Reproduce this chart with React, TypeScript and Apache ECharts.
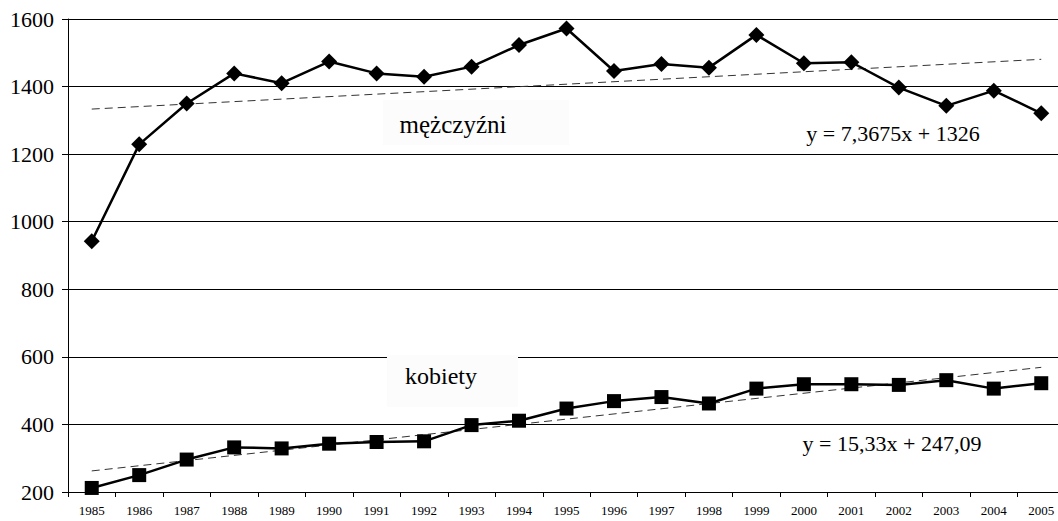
import React, { useEffect, useRef } from "react";
import * as echarts from "echarts";

const years = ["1985","1986","1987","1988","1989","1990","1991","1992","1993","1994","1995","1996","1997","1998","1999","2000","2001","2002","2003","2004","2005"];
const men = [942, 1229, 1350, 1439, 1410, 1474, 1439, 1429, 1459, 1523, 1572, 1446, 1467, 1456, 1553, 1469, 1472, 1397, 1343, 1388, 1321];
const women = [212, 250, 296, 332, 329, 343, 348, 350, 398, 411, 447, 469, 481, 462, 506, 519, 519, 517, 531, 506, 522];
const menTrendEnds = [1333.4, 1480.7];
const womenTrendEnds = [262.4, 569.0];
const yTicks = { min: 200, max: 1600, step: 200 };
const menLabel = "mężczyźni";
const womenLabel = "kobiety";
const menEq = "y = 7,3675x + 1326";
const womenEq = "y = 15,33x + 247,09";

const FONT = "Liberation Serif";

function trendData(ends: number[]) {
  return years.map((_, i) => (i === 0 ? ends[0] : i === years.length - 1 ? ends[1] : null));
}

export default function App() {
  const ref = useRef<HTMLDivElement>(null);
  useEffect(() => {
    if (!ref.current) return;
    const chart = echarts.init(ref.current, undefined, { renderer: "svg" });
    chart.setOption({
      animation: false,
      backgroundColor: "#fff",
      textStyle: { fontFamily: FONT },
      grid: { left: 68, top: 19, bottom: 29, right: -7, containLabel: false, outerBoundsMode: "none" },
      xAxis: {
        type: "category",
        data: years,
        boundaryGap: true,
        axisLine: { lineStyle: { color: "#000", width: 1 } },
        axisTick: { show: true, length: 5, lineStyle: { color: "#000" } },
        axisLabel: { color: "#000", fontSize: 13, fontFamily: FONT, margin: 12, interval: 0 },
        splitLine: { show: false },
      },
      yAxis: {
        type: "value",
        min: yTicks.min,
        max: yTicks.max,
        interval: yTicks.step,
        axisLine: { show: true, lineStyle: { color: "#000", width: 1 } },
        axisTick: { show: true, length: 6, lineStyle: { color: "#000" } },
        axisLabel: { color: "#000", fontSize: 22, fontFamily: FONT, margin: 14, formatter: (v: number) => String(v) },
        splitLine: { show: true, lineStyle: { color: "#000", width: 1 } },
      },
      series: [
        {
          name: "men",
          type: "line",
          data: men,
          symbol: "diamond",
          symbolSize: 16,
          itemStyle: { color: "#000" },
          lineStyle: { color: "#000", width: 2.5 },
          z: 3,
        },
        {
          name: "women",
          type: "line",
          data: women,
          symbol: "rect",
          symbolSize: 14,
          itemStyle: { color: "#000" },
          lineStyle: { color: "#000", width: 2.5 },
          z: 3,
        },
        {
          name: "menTrend",
          type: "line",
          data: trendData(menTrendEnds),
          connectNulls: true,
          symbol: "none",
          lineStyle: { color: "#333", width: 1, type: [8, 5] },
          z: 2,
        },
        {
          name: "womenTrend",
          type: "line",
          data: trendData(womenTrendEnds),
          connectNulls: true,
          symbol: "none",
          lineStyle: { color: "#333", width: 1, type: [8, 5] },
          z: 2,
        },
      ],
      graphic: [
        { type: "rect", shape: { x: 383, y: 100, width: 186, height: 45 }, style: { fill: "#fcfcfc" }, z: 10 },
        { type: "text", x: 453, y: 124, style: { text: menLabel, fontFamily: FONT, fontSize: 25, fill: "#000", align: "center", verticalAlign: "middle" }, z: 11 },
        { type: "rect", shape: { x: 387, y: 355, width: 131, height: 52 }, style: { fill: "#fcfcfc" }, z: 10 },
        { type: "text", x: 441, y: 376, style: { text: womenLabel, fontFamily: FONT, fontSize: 24, fill: "#000", align: "center", verticalAlign: "middle" }, z: 11 },
        { type: "text", x: 893, y: 133, style: { text: menEq, fontFamily: FONT, fontSize: 22, fill: "#000", align: "center", verticalAlign: "middle" }, z: 11 },
        { type: "text", x: 892, y: 443, style: { text: womenEq, fontFamily: FONT, fontSize: 22, fill: "#000", align: "center", verticalAlign: "middle" }, z: 11 },
      ],
    });
    return () => chart.dispose();
  }, []);
  return <div ref={ref} style={{ position: "absolute", left: 0, top: 0, width: 1058, height: 521 }} />;
}
